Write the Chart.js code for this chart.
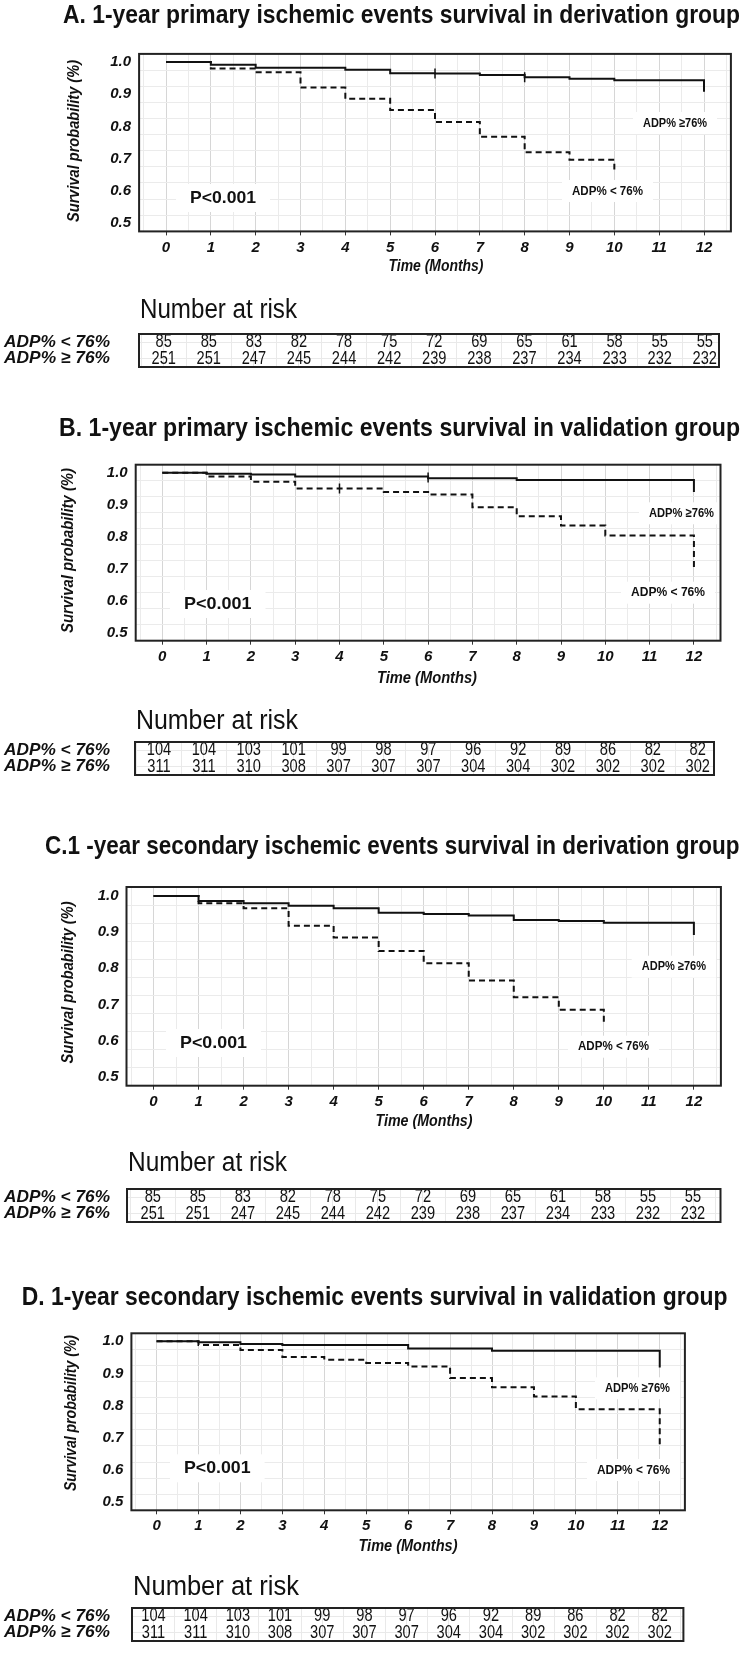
<!DOCTYPE html>
<html>
<head>
<meta charset="utf-8">
<title>ADP% survival</title>
<script src="https://cdn.jsdelivr.net/npm/chart.js@4.4.1/dist/chart.umd.min.js"></script>
<style>
  body { margin: 0; background: #fff; }
  #page { position: relative; width: 744px; height: 1653px; overflow: hidden; }
  #page canvas { position: absolute; left: 0; }
</style>
</head>
<body>
<div id="page"></div>
<script>
// ---- data ----
var months = [0, 1, 2, 3, 4, 5, 6, 7, 8, 9, 10, 11, 12];
var yTickValues = [0.5, 0.6, 0.7, 0.8, 0.9, 1.0];
var groups = ["ADP% < 76%", "ADP% ≥ 76%"];

var titles = [
  "A. 1-year primary ischemic events survival in derivation group",
  "B. 1-year primary ischemic events survival in validation group",
  "C.1 -year secondary ischemic events survival in derivation group",
  "D. 1-year secondary ischemic events survival in validation group"
];

// KM steps: time (months) and survival after the step
var timeA_hi = [0, 1, 2, 4, 5, 6, 7, 8, 9, 10, 12];
var survA_hi = [1, 0.991, 0.982, 0.976, 0.965, 0.964, 0.96, 0.953, 0.948, 0.943, 0.908];
var timeA_lo = [0, 1, 2, 3, 4, 5, 6, 7, 8, 9, 10];
var survA_lo = [1, 0.98, 0.968, 0.921, 0.886, 0.851, 0.814, 0.768, 0.72, 0.697, 0.667];

var timeB_hi = [0, 1, 2, 3, 6, 8, 12];
var survB_hi = [1, 0.997, 0.994, 0.988, 0.983, 0.977, 0.94];
var timeB_lo = [0, 1, 2, 3, 5, 6, 7, 8, 9, 10, 12];
var survB_lo = [1, 0.988, 0.972, 0.951, 0.94, 0.932, 0.892, 0.864, 0.835, 0.804, 0.70];

var timeC_hi = [0, 1, 2, 3, 4, 5, 6, 7, 8, 9, 10, 12];
var survC_hi = [1, 0.986, 0.98, 0.973, 0.966, 0.954, 0.95, 0.946, 0.934, 0.931, 0.926, 0.892];
var timeC_lo = [0, 1, 2, 3, 4, 5, 6, 7, 8, 9, 10];
var survC_lo = [1, 0.98, 0.966, 0.918, 0.885, 0.848, 0.814, 0.766, 0.72, 0.685, 0.648];

var timeD_hi = [0, 1, 2, 3, 6, 8, 12];
var survD_hi = [1, 0.997, 0.992, 0.989, 0.978, 0.971, 0.919];
var timeD_lo = [0, 1, 2, 3, 4, 5, 6, 7, 8, 9, 10, 12];
var survD_lo = [1, 0.989, 0.973, 0.951, 0.943, 0.933, 0.922, 0.886, 0.857, 0.829, 0.789, 0.676];

// censor ticks that stand out on the curves
var censorA = [{ x: 6, y: 0.964 }, { x: 8, y: 0.953 }];
var censorB = [{ x: 6, y: 0.985 }, { x: 4, y: 0.951 }];
var censorC = [];
var censorD = [];

// number at risk
var riskDeriv_lo = [85, 85, 83, 82, 78, 75, 72, 69, 65, 61, 58, 55, 55];
var riskDeriv_hi = [251, 251, 247, 245, 244, 242, 239, 238, 237, 234, 233, 232, 232];
var riskValid_lo = [104, 104, 103, 101, 99, 98, 97, 96, 92, 89, 86, 82, 82];
var riskValid_hi = [311, 311, 310, 308, 307, 307, 307, 304, 304, 302, 302, 302, 302];

// ---- layout (page pixels) ----
var SANS = "'Liberation Sans', Arial, sans-serif";
var panels = [
  { title: titles[0], kmTop: 0, kmH: 285, area: [139.1, 53.9, 730.9, 231.4],
    titlePos: [63, 740, 16], yTitle: [74, 141, 162], xTitle: [436, 267, 95],
    pText: [190, 256, 198], hiText: [643, 707, 123], loText: [572, 643, 191],
    hi: [timeA_hi, survA_hi], lo: [timeA_lo, survA_lo], censor: censorA,
    tabTop: 290, tabH: 90, box: [139, 334, 719, 367], cols: [163.7, 704.8],
    nar: [140, 297, 311], risk: [riskDeriv_lo, riskDeriv_hi] },
  { title: titles[1], kmTop: 395, kmH: 300, area: [135.7, 464.7, 720.5, 640.7],
    titlePos: [59, 740, 429.3], yTitle: [68, 550.5, 165], xTitle: [427, 678.3, 100],
    pText: [184, 251.5, 604], hiText: [649, 714, 513.3], loText: [631, 705, 592.7],
    hi: [timeB_hi, survB_hi], lo: [timeB_lo, survB_lo], censor: censorB,
    tabTop: 700, tabH: 100, box: [135, 742, 714, 775], cols: [159, 697.7],
    nar: [136, 298, 721.7], risk: [riskValid_lo, riskValid_hi] },
  { title: titles[2], kmTop: 815, kmH: 320, area: [126.5, 887, 720.9, 1085.7],
    titlePos: [45, 739.5, 846.7], yTitle: [68.3, 982.5, 162], xTitle: [424, 1122, 97],
    pText: [180, 247, 1043], hiText: [641.7, 706, 966.7], loText: [578, 649, 1046.7],
    hi: [timeC_hi, survC_hi], lo: [timeC_lo, survC_lo], censor: censorC,
    tabTop: 1140, tabH: 100, box: [127, 1189, 720.5, 1222], cols: [152.8, 693],
    nar: [128, 287, 1163.3], risk: [riskDeriv_lo, riskDeriv_hi] },
  { title: titles[3], kmTop: 1265, kmH: 295, area: [131.4, 1333.3, 684.9, 1510.3],
    titlePos: [21.7, 727.6, 1298], yTitle: [71.7, 1413, 156], xTitle: [408, 1546.7, 99],
    pText: [184, 250.6, 1468.3], hiText: [605, 670, 1388.3], loText: [597, 670, 1470],
    hi: [timeD_hi, survD_hi], lo: [timeD_lo, survD_lo], censor: censorD,
    tabTop: 1565, tabH: 88, box: [132, 1608, 683.4, 1641], cols: [153.5, 659.7],
    nar: [133, 299, 1588], risk: [riskValid_lo, riskValid_hi] }
];

Chart.defaults.font.family = SANS;
Chart.defaults.color = "#111";

function near(v, list) {
  return list.some(function (t) { return Math.abs(v - t) < 1e-6; });
}

// draw text squeezed/stretched to a measured width (w) or by a factor (sx)
function fitText(ctx, text, x, y, w, font, align, sx) {
  ctx.save();
  ctx.font = font;
  var m = ctx.measureText(text).width;
  ctx.translate(x, y);
  if (w) ctx.scale(w / m, 1);
  else if (sx) ctx.scale(sx, 1);
  ctx.textAlign = align || "left";
  ctx.textBaseline = "middle";
  ctx.fillStyle = "#111";
  ctx.fillText(text, 0, 0);
  ctx.restore();
}

function fitTextV(ctx, text, cx, cy, h, font) {
  ctx.save();
  ctx.font = font;
  var m = ctx.measureText(text).width;
  ctx.translate(cx, cy);
  ctx.rotate(-Math.PI / 2);
  ctx.scale(h / m, 1);
  ctx.textAlign = "center";
  ctx.textBaseline = "middle";
  ctx.fillStyle = "#111";
  ctx.fillText(text, 0, 0);
  ctx.restore();
}

function makeCanvas(top, h) {
  var c = document.createElement("canvas");
  c.width = 744;
  c.height = h;
  c.style.top = top + "px";
  document.getElementById("page").appendChild(c);
  return c.getContext("2d");
}

function steps(t, s) {
  return t.map(function (x, i) { return { x: x, y: s[i] }; });
}

function kmDecor(p) {
  var off = p.kmTop;
  function label(ctx, spec, text, font, padX, padY) {
    ctx.fillStyle = "#fff";
    ctx.fillRect(spec[0] - padX, spec[2] - off - padY, spec[1] - spec[0] + 2 * padX, 2 * padY);
    fitText(ctx, text, spec[0], spec[2] - off, spec[1] - spec[0], font);
  }
  return {
    id: "kmDecor",
    beforeDatasetsDraw: function (chart) {
      var ctx = chart.ctx;
      label(ctx, p.pText, "P<0.001", "bold 17px " + SANS, 14, 14);
      label(ctx, p.hiText, "ADP% ≥76%", "bold 13px " + SANS, 10, 11);
      label(ctx, p.loText, "ADP% < 76%", "bold 13px " + SANS, 10, 11);
    },
    afterDraw: function (chart) {
      var ctx = chart.ctx, a = chart.chartArea, ys = chart.scales.y;
      ctx.save();
      ctx.strokeStyle = "#222";
      ctx.lineWidth = 2;
      ctx.strokeRect(a.left, a.top, a.right - a.left, a.bottom - a.top);
      ctx.restore();
      // y tick labels placed with the library's y scale
      yTickValues.forEach(function (v) {
        fitText(ctx, v.toFixed(1), a.left - 8, ys.getPixelForValue(v), null,
          "italic bold 15px " + SANS, "right");
      });
      fitText(ctx, p.title, p.titlePos[0], p.titlePos[2] - off, p.titlePos[1] - p.titlePos[0], "bold 25px " + SANS);
      fitTextV(ctx, "Survival probability (%)", p.yTitle[0], p.yTitle[1] - off, p.yTitle[2], "italic bold 17px " + SANS);
      fitText(ctx, "Time (Months)", p.xTitle[0], p.xTitle[1] - off, p.xTitle[2], "italic bold 16px " + SANS, "center");
    }
  };
}

function drawKM(p) {
  var ctx = makeCanvas(p.kmTop, p.kmH);
  var xAxisH = 30;
  new Chart(ctx, {
    type: "line",
    data: {
      datasets: [
        { label: groups[1], data: steps(p.hi[0], p.hi[1]), stepped: "before",
          borderColor: "#111", borderWidth: 2, pointRadius: 0, fill: false },
        { label: groups[0], data: steps(p.lo[0], p.lo[1]), stepped: "before",
          borderColor: "#111", borderWidth: 2, borderDash: [6, 4], pointRadius: 0, fill: false },
        { label: "censored", data: p.censor, showLine: false, pointStyle: "line", rotation: 90,
          pointRadius: 5, borderColor: "#111", borderWidth: 1.5 }
      ]
    },
    options: {
      responsive: false,
      animation: false,
      events: [],
      layout: {
        padding: {
          left: 0,
          top: p.area[1] - p.kmTop,
          right: 744 - p.area[2],
          bottom: p.kmH - (p.area[3] - p.kmTop) - xAxisH
        }
      },
      plugins: { legend: { display: false }, tooltip: { enabled: false } },
      scales: {
        x: {
          type: "linear", min: -0.6, max: 12.6,
          afterFit: function (s) { s.height = xAxisH; },
          border: { display: false },
          grid: {
            color: function (c) { return near(c.tick.value, months) ? "#d6d6d6" : "#ebebeb"; },
            tickColor: function (c) { return near(c.tick.value, months) ? "#333" : "rgba(0,0,0,0)"; },
            tickLength: 4
          },
          ticks: {
            stepSize: 0.5, includeBounds: false, autoSkip: false, maxRotation: 0, padding: 3,
            font: { size: 15, weight: "bold", style: "italic" },
            callback: function (v) { return near(v, months) ? String(Math.round(v)) : ""; }
          }
        },
        y: {
          type: "linear", min: 0.475, max: 1.025,
          afterFit: function (s) { s.width = p.area[0]; },
          border: { display: false },
          grid: {
            color: function (c) { return near(c.tick.value, yTickValues) ? "#d6d6d6" : "#ebebeb"; },
            tickColor: function (c) { return near(c.tick.value, yTickValues) ? "#333" : "rgba(0,0,0,0)"; },
            tickLength: 4
          },
          ticks: { stepSize: 0.05, includeBounds: false, autoSkip: false, display: false }
        }
      }
    },
    plugins: [kmDecor(p)]
  });
}

function tableDecor(p) {
  var off = p.tabTop;
  return {
    id: "tableDecor",
    afterDatasetsDraw: function (chart) {
      var ctx = chart.ctx, ys = chart.scales.y;
      chart.data.datasets.forEach(function (ds, di) {
        chart.getDatasetMeta(di).data.forEach(function (el, i) {
          fitText(ctx, String(ds.data[i].v), el.x, el.y, null, "19px " + SANS, "center", 0.77);
        });
        fitText(ctx, groups[di], 4, ys.getPixelForValue(di), 106, "italic bold 17px " + SANS);
      });
    },
    afterDraw: function (chart) {
      var ctx = chart.ctx, a = chart.chartArea;
      ctx.save();
      ctx.strokeStyle = "#222";
      ctx.lineWidth = 2;
      ctx.strokeRect(a.left, a.top, a.right - a.left, a.bottom - a.top);
      ctx.restore();
      fitText(ctx, "Number at risk", p.nar[0], p.nar[2] - off, p.nar[1] - p.nar[0], "27px " + SANS);
    }
  };
}

function drawTable(p) {
  var ctx = makeCanvas(p.tabTop, p.tabH);
  var per = (p.cols[1] - p.cols[0]) / 12;
  var xmin = (p.box[0] - p.cols[0]) / per;
  var xmax = 12 + (p.box[2] - p.cols[1]) / per;
  var rows = p.risk.map(function (vals, r) {
    return {
      label: groups[r],
      data: months.map(function (m, i) { return { x: m, y: groups[r], v: vals[i] }; }),
      showLine: false, pointRadius: 0
    };
  });
  new Chart(ctx, {
    type: "line",
    data: { datasets: rows },
    options: {
      responsive: false,
      animation: false,
      events: [],
      layout: {
        padding: {
          left: 0,
          top: p.box[1] - p.tabTop,
          right: 744 - p.box[2],
          bottom: p.tabH - (p.box[3] - p.tabTop)
        }
      },
      plugins: { legend: { display: false }, tooltip: { enabled: false } },
      scales: {
        x: {
          type: "linear", min: xmin, max: xmax,
          afterFit: function (s) { s.height = 0; },
          border: { display: false },
          grid: { color: "#e9e9e9", drawTicks: false },
          ticks: { display: false, stepSize: 0.5, includeBounds: false, autoSkip: false }
        },
        y: {
          type: "category", labels: groups, offset: true,
          afterFit: function (s) { s.width = p.box[0]; },
          border: { display: false },
          grid: { color: "#e9e9e9", drawTicks: false },
          ticks: { display: false }
        }
      }
    },
    plugins: [tableDecor(p)]
  });
}

panels.forEach(function (p) {
  drawKM(p);
  drawTable(p);
});
</script>
</body>
</html>
